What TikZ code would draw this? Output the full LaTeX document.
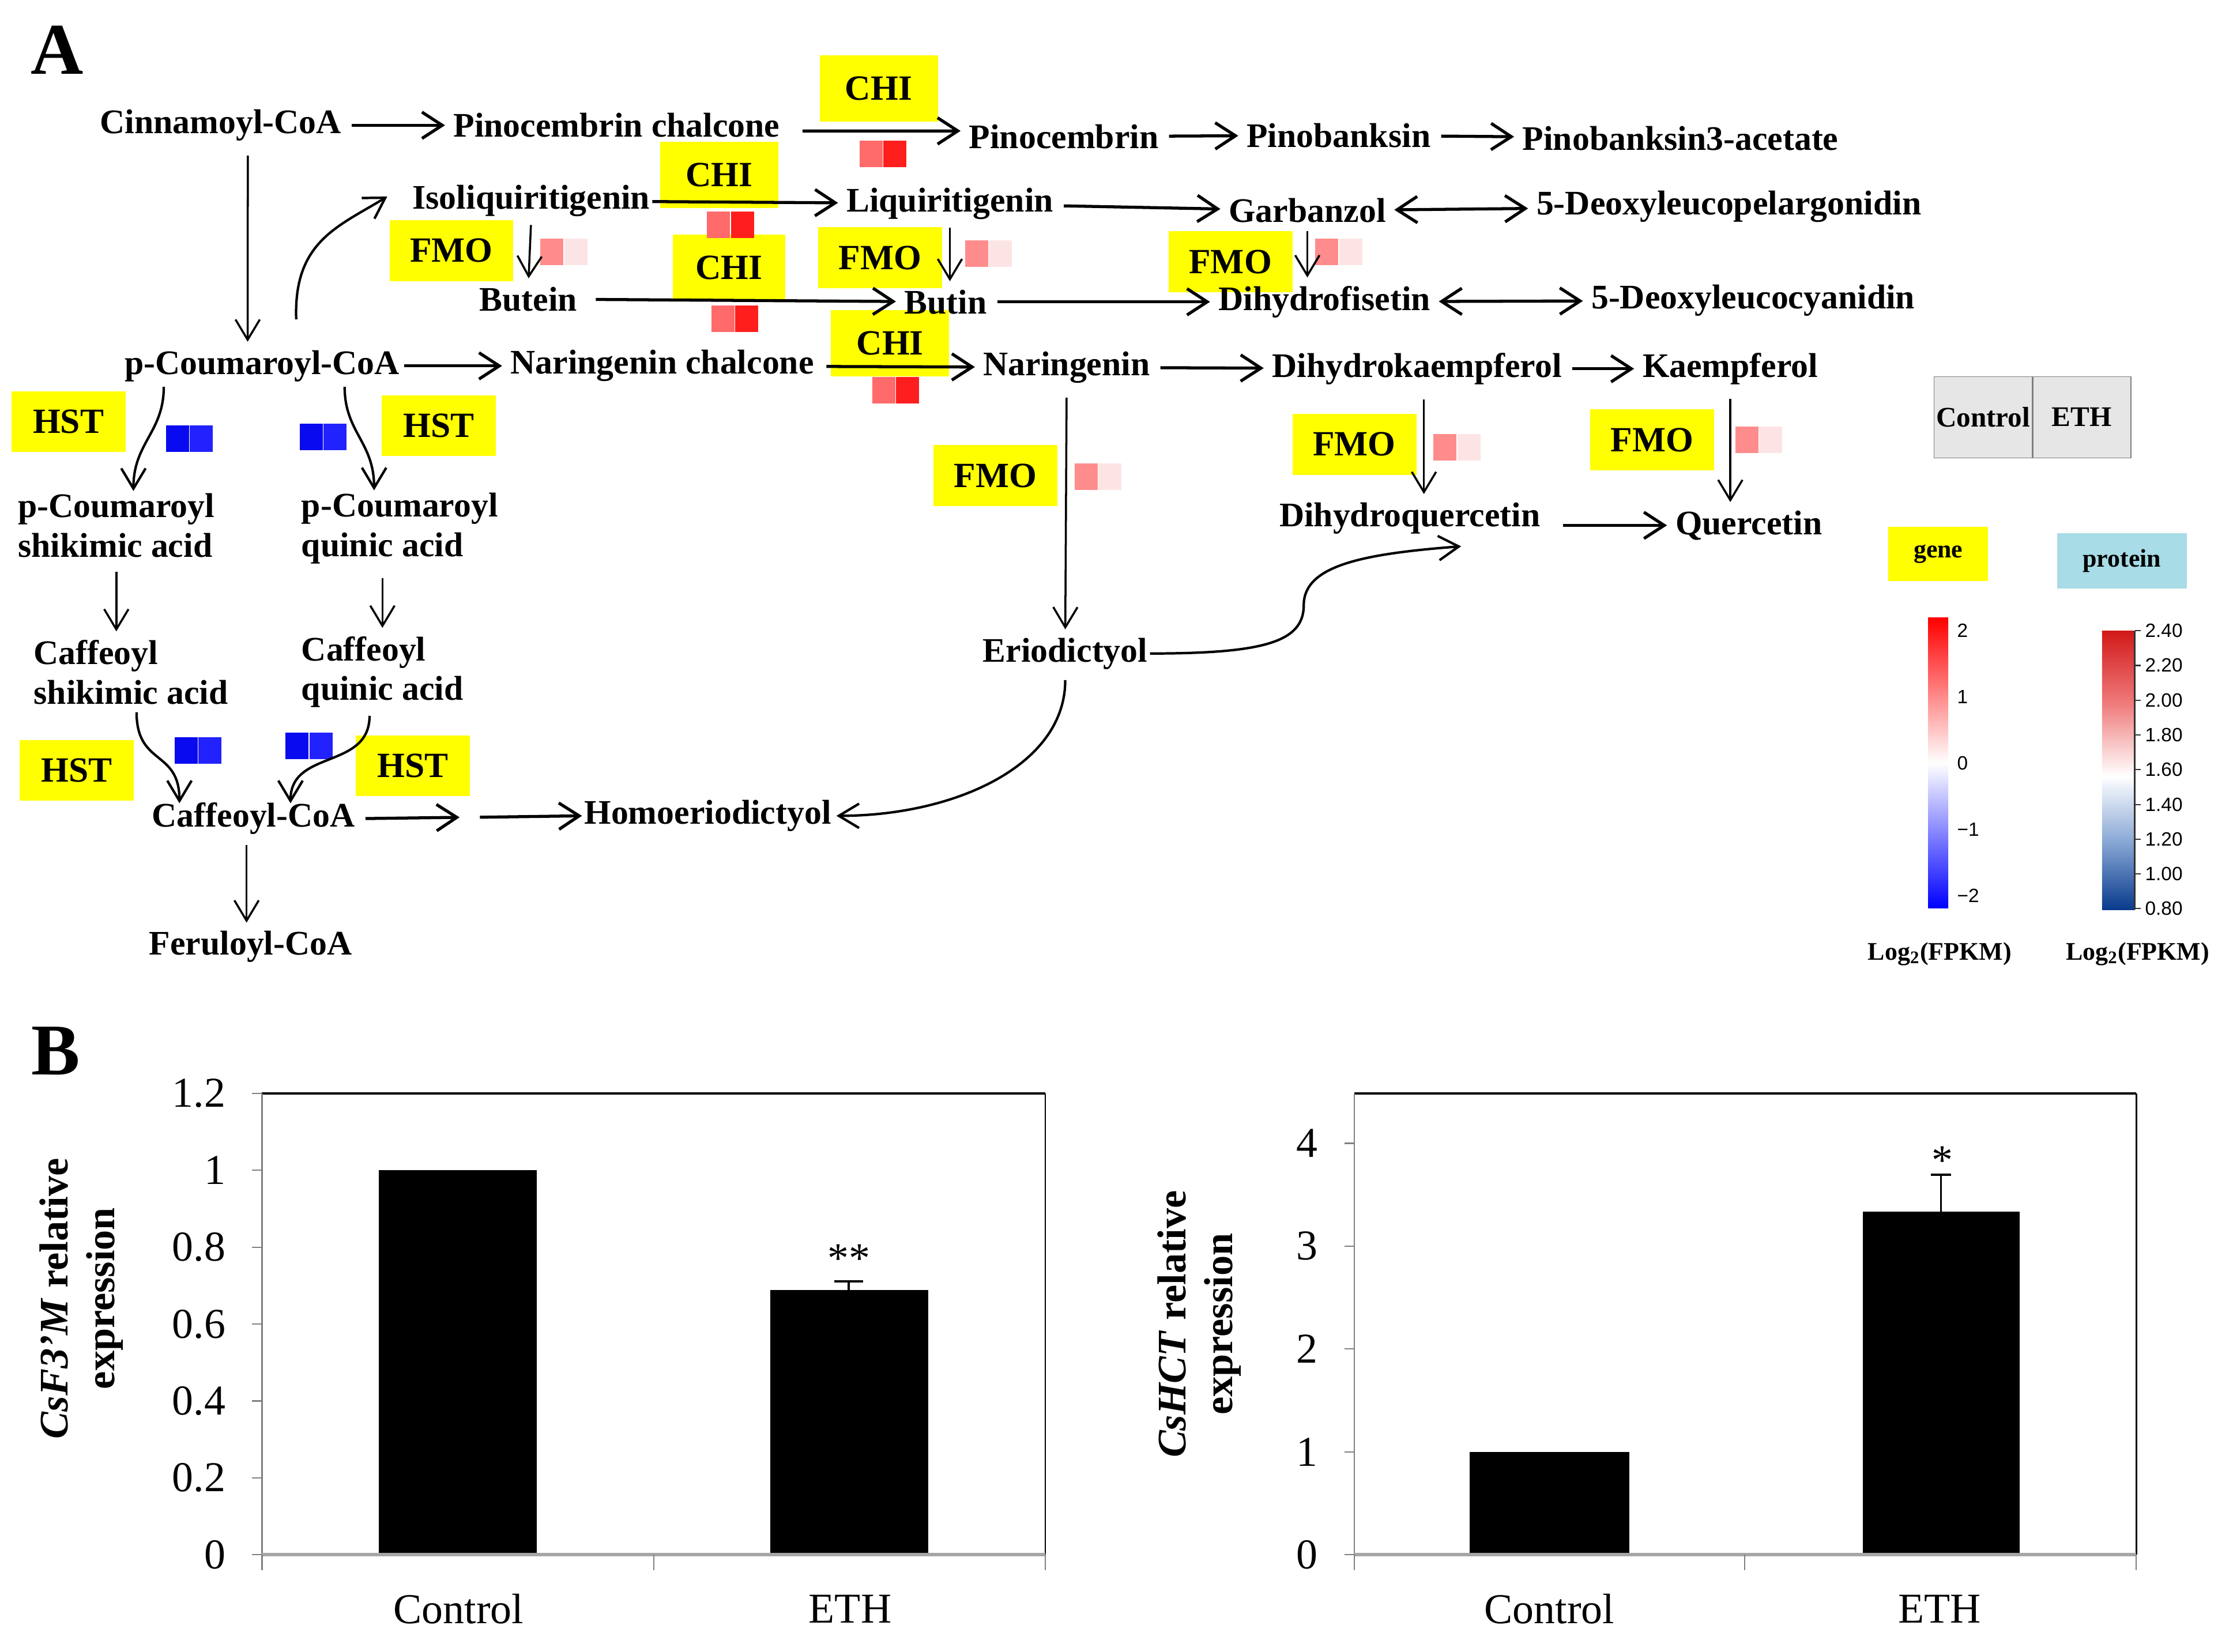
\documentclass[tikz,border=0pt]{standalone}
\usepackage{fontspec}
\setmainfont{Liberation Serif}
\newfontfamily\sansnum{Liberation Sans}
\usetikzlibrary{arrows.meta,calc,positioning}

\definecolor{enzy}{HTML}{FFFF00}
\definecolor{chiL}{HTML}{FF6A6A}
\definecolor{chiR}{HTML}{FF1E1E}
\definecolor{fmoL}{HTML}{FF8C8C}
\definecolor{fmoR}{HTML}{FDE4E4}
\definecolor{hstL}{HTML}{0A0AF0}
\definecolor{hstR}{HTML}{2222FF}
\definecolor{legcell}{HTML}{E6E6E6}
\definecolor{protcol}{HTML}{A8DCE6}

% two heat-map cells side by side: name, centre, left colour, right colour
\newcommand{\heatpair}[4]{%
  \node[hsq,fill=#3,anchor=east] (#1-l) at (#2) {};
  \node[hsq,fill=#4,anchor=west] (#1-r) at (#2) {};}

\begin{document}
\begin{tikzpicture}[x=0.0247cm,y=-0.0247cm,
  cpd/.style={font=\fontsize{17}{19.6}\selectfont\bfseries,inner sep=1pt},
  enz/.style={fill=enzy,font=\fontsize{17.5}{20}\selectfont\bfseries,inner sep=0pt},
  chibox/.style={enz,minimum width=2.05cm,minimum height=1.15cm},
  fmobox/.style={enz,minimum width=2.15cm,minimum height=1.06cm},
  hstbox/.style={enz,minimum width=1.98cm,minimum height=1.05cm},
  hsq/.style={inner sep=0pt,minimum width=0.40cm,minimum height=0.46cm},
  harr/.style={->,>={Straight Barb[length=10pt,width=13pt]},line width=1.5pt,shorten <=4pt,shorten >=3pt},
  varr/.style={->,>={Straight Barb[length=10pt,width=12pt]},line width=1pt,shorten <=3pt,shorten >=3pt},
  carr/.style={->,>={Straight Barb[length=10pt,width=12pt]},line width=1.2pt},
  dharr/.style={<->,>={Straight Barb[length=10pt,width=13pt]},line width=1.5pt,shorten <=3pt,shorten >=3pt},
  panel/.style={font=\fontsize{36}{40}\selectfont\bfseries,inner sep=0pt},
  ticklab/.style={font=\fontsize{21}{24}\selectfont,inner sep=1pt},
  ylab/.style={font=\fontsize{20}{23}\selectfont\bfseries,align=center,rotate=90,inner sep=0pt},
  cbarlab/.style={font=\sansnum\fontsize{9.5}{11}\selectfont,inner sep=0pt,anchor=west},
  legtext/.style={font=\fontsize{12.5}{14}\selectfont\bfseries,inner sep=0pt}]

\fill[white] (0,0) rectangle (1568,1160);
\useasboundingbox (0,0) rectangle (1568,1160);

\node[panel] (pA) at (40,35) {A};
\node[panel] (pB) at (39,738) {B};

% enzymes
\node[chibox] (chi1) at (617,62) {CHI};
\node[chibox] (chi2) at (505,123) {CHI};
\node[chibox,minimum width=1.95cm] (chi3) at (512,188) {CHI};
\node[chibox] (chi4) at (625,241) {CHI};
\node[fmobox] (fmo1) at (317,176) {FMO};
\node[fmobox] (fmo2) at (618,181) {FMO};
\node[fmobox] (fmo3) at (864,184) {FMO};
\node[fmobox] (fmo4) at (699,334) {FMO};
\node[fmobox] (fmo5) at (951,312) {FMO};
\node[fmobox] (fmo6) at (1160,309) {FMO};
\node[hstbox] (hst1) at (48,296) {HST};
\node[hstbox] (hst2) at (308,299) {HST};
\node[hstbox] (hst3) at (54,541) {HST};
\node[hstbox] (hst4) at (290,538) {HST};

\heatpair{hc1}{620,108}{chiL}{chiR}
\heatpair{hc2}{513,158}{chiL}{chiR}
\heatpair{hc3}{516,224}{chiL}{chiR}
\heatpair{hc4}{629,274}{chiL}{chiR}
\heatpair{hf1}{396,177}{fmoL}{fmoR}
\heatpair{hf2}{694,178}{fmoL}{fmoR}
\heatpair{hf3}{940,177}{fmoL}{fmoR}
\heatpair{hf4}{771,335}{fmoL}{fmoR}
\heatpair{hf5}{1023,314}{fmoL}{fmoR}
\heatpair{hf6}{1235,309}{fmoL}{fmoR}
\heatpair{hh1}{133,308}{hstL}{hstR}
\heatpair{hh2}{227,307}{hstL}{hstR}
\heatpair{hh3}{139,527}{hstL}{hstR}
\heatpair{hh4}{217,524}{hstL}{hstR}

% compounds
\node[cpd] (cin) at (155,88) {Cinnamoyl-CoA};
\node[cpd] (pcc) at (433,88) {Pinocembrin chalcone};
\node[cpd] (pino) at (747,96) {Pinocembrin};
\node[cpd] (pinob) at (940,95) {Pinobanksin};
\node[cpd] (pinoa) at (1180,97) {Pinobanksin3-acetate};
\node[cpd] (iso) at (373,141) {Isoliquiritigenin};
\node[cpd] (liq) at (667,143) {Liquiritigenin};
\node[cpd] (garb) at (918,148) {Garbanzol};
\node[cpd] (dlp) at (1214,145) {5-Deoxyleucopelargonidin};
\node[cpd] (butein) at (371,210) {Butein};
\node[cpd] (butin) at (664,212) {Butin};
\node[cpd] (dhf) at (930,212) {Dihydrofisetin};
\node[cpd] (dlc) at (1231,211) {5-Deoxyleucocyanidin};
\node[cpd] (pcoa) at (184,257) {p-Coumaroyl-CoA};
\node[cpd] (narch) at (465,257) {Naringenin chalcone};
\node[cpd] (nar) at (749,258) {Naringenin};
\node[cpd] (dhk) at (995,259) {Dihydrokaempferol};
\node[cpd] (kae) at (1215,259) {Kaempferol};
\node[cpd,align=left,anchor=west] (pcsa) at (11,369) {p-Coumaroyl\\shikimic acid};
\node[cpd,align=left,anchor=west] (pcqa) at (210,371) {p-Coumaroyl\\quinic acid};
\node[cpd,align=left,anchor=west] (csa) at (22,472) {Caffeoyl\\shikimic acid};
\node[cpd,align=left,anchor=west] (cqa) at (210,472) {Caffeoyl\\quinic acid};
\node[cpd] (dhq) at (990,364) {Dihydroquercetin};
\node[cpd] (que) at (1228,369) {Quercetin};
\node[cpd] (eri) at (748,459) {Eriodictyol};
\node[cpd] (caf) at (178,575) {Caffeoyl-CoA};
\node[cpd] (homo) at (497,573) {Homoeriodictyol};
\node[cpd] (fer) at (176,665) {Feruloyl-CoA};
\coordinate (cstep1) at (327,574);
\coordinate (cstep2) at (337,574);

% reactions
\draw[harr] (cin) -- (pcc);
\draw[harr,shorten <=10pt] ([yshift=-0.1cm]pcc.east) -- ([yshift=0.1cm]pino.west);
\draw[harr] (pino) -- (pinob);
\draw[harr] (pinob) -- (pinoa);
\draw[harr,shorten <=0pt] (iso) -- (liq);
\draw[harr] (liq) -- (garb);
\draw[dharr] (garb) -- (dlp);
\draw[harr,shorten <=8pt] (butein) -- (butin);
\draw[harr] (butin) -- (dhf);
\draw[dharr] (dhf) -- (dlc);
\draw[harr,shorten <=1pt] (pcoa) -- (narch);
\draw[harr,shorten <=5pt] (narch) -- (nar);
\draw[harr] (nar) -- (dhk);
\draw[harr] (dhk) -- (kae);
\draw[harr,shorten <=10pt] (dhq.east |- que.west) -- (que.west);
\draw[harr] (caf.east) -- (cstep1);
\draw[harr,shorten <=0pt,shorten >=0pt] (cstep2) -- (homo.west);

\draw[varr,shorten <=6pt] ([xshift=0.47cm]cin.south) -- ([xshift=-0.25cm]pcoa.north);
\draw[varr] (iso.south) -- (butein.north);
\draw[varr] (liq.south) -- (liq.south |- butin.north);
\draw[varr] (garb.south) -- (garb.south |- dhf.north);
\draw[varr,shorten <=6pt] (nar.south) -- (eri.north);
\draw[varr,shorten <=6pt] ([xshift=0.12cm]dhk.south) -- ([xshift=0.12cm]dhk.south |- dhq.north);
\draw[varr,shorten <=6pt] (kae.south) -- (kae.south |- que.north);
\draw[varr,shorten <=6pt] (pcsa.south) -- (pcsa.south |- csa.north);
\draw[varr,shorten <=6pt] ([xshift=-0.3cm]pcqa.south) -- ([xshift=-0.3cm]pcqa.south |- cqa.north);
\draw[varr,shorten <=4pt] ([xshift=-0.12cm]caf.south) -- ([xshift=-0.12cm]caf.south |- fer.north);

\draw[carr] ($(pcoa.north)+(24,-20)$) .. controls ($(pcoa.north)+(22,-75)$) and ($(iso.west)+(-50,18)$) .. ($(iso.west)+(-16,-3)$);
\draw[carr] ($(pcoa.south)+(-69,2)$) .. controls ($(pcoa.south)+(-69,34)$) and ($(pcsa.north)+(12,-34)$) .. ($(pcsa.north)+(12,0)$);
\draw[carr] ($(pcoa.south)+(58,2)$) .. controls ($(pcoa.south)+(58,34)$) and ($(pcqa.north)+(-18,-34)$) .. ($(pcqa.north)+(-18,0)$);
\draw[carr] ($(csa.south)+(4,4)$) .. controls ($(csa.south)+(4,42)$) and ($(caf.north)+(-52,-36)$) .. ($(caf.north)+(-52,2)$);
\draw[carr] ($(cqa.south)+(-9,4)$) .. controls ($(cqa.south)+(-9,42)$) and ($(caf.north)+(26,-36)$) .. ($(caf.north)+(26,2)$);
\draw[carr] (eri.east) .. controls ($(eri.east)+(80,0)$) and ($(eri.east)+(108,-8)$) .. ($(eri.east)+(108,-34)$)
  .. controls ($(eri.east)+(108,-62)$) and ($(eri.east)+(150,-70)$) .. ($(dhq.south)+(36,7)$);
\draw[carr] ($(eri.south)+(0,6)$) .. controls ($(eri.south)+(0,66)$) and ($(homo.east)+(85,0)$) .. ($(homo.east)+(2,0)$);

% legend
\node[legtext,font=\fontsize{14}{16}\selectfont\bfseries,fill=legcell,draw=gray,minimum width=1.70cm,minimum height=1.41cm] (lctrl) at (1392.5,293) {Control};
\node[legtext,font=\fontsize{14}{16}\selectfont\bfseries,fill=legcell,draw=gray,minimum width=1.70cm,minimum height=1.41cm,right=0pt of lctrl] (leth) {ETH};
\node[legtext,fill=enzy,minimum width=1.73cm,minimum height=0.94cm] (lgene) at (1361,389) {gene};
\node[legtext,fill=protcol,minimum width=2.25cm,minimum height=0.96cm] (lprot) at (1490,394) {protein};

\shade[top color=red,bottom color=white] (1354,434) rectangle (1368,536);
\shade[top color=white,bottom color=blue] (1354,536) rectangle (1368,638);
\foreach \v [count=\i from 0] in {2,1,0,−1,−2}
  \node[cbarlab] (gt\i) at (1374,{443+46.5*\i}) {\v};

\shade[top color={rgb,255:red,210;green,24;blue,24},bottom color={rgb,255:red,240;green,125;blue,125}] (1476,443) rectangle (1499,495);
\shade[top color={rgb,255:red,240;green,125;blue,125},bottom color=white] (1476,495) rectangle (1499,545);
\shade[top color=white,bottom color={rgb,255:red,140;green,170;blue,215}] (1476,545) rectangle (1499,590);
\shade[top color={rgb,255:red,140;green,170;blue,215},bottom color={rgb,255:red,8;green,58;blue,140}] (1476,590) rectangle (1499,639);
\draw[line width=0.8pt,black!80] (1499,443) -- (1499,639);
\foreach \v [count=\i from 0] in {2.40,2.20,2.00,1.80,1.60,1.40,1.20,1.00,0.80}{
  \draw[line width=0.6pt,black!80] (1499,{443+24.4*\i}) -- (1503,{443+24.4*\i});
  \node[cbarlab] (pt\i) at (1506,{443+24.4*\i}) {\v};
}
\node[legtext] (lfpkm1) at (1362,670) {Log\textsubscript{2}(FPKM)};
\node[legtext] (lfpkm2) at (1501,670) {Log\textsubscript{2}(FPKM)};

% bar chart CsF3'M
\fill (266,1092) rectangle (377,822);
\fill (541,1092) rectangle (652,906);
\draw[line width=1pt] (596,906) -- (596,900) (586,900) -- (606,900);
\node[ticklab] (st1) at (596,884) {**};
\draw[line width=1.4pt] (184,768) -- (734,768);
\draw[line width=0.8pt] (734,768) -- (734,1092);
\draw[gray,line width=0.6pt] (184,768) -- (184,1092);
\foreach \t [count=\i] in {0,0.2,0.4,0.6,0.8,1,1.2}{
  \draw[gray,line width=0.6pt] (177,{1092-270*\t}) -- (184,{1092-270*\t});
  \node[ticklab,anchor=east] (ltk\i) at (160,{1092-270*\t}) {\t};
}
\draw[gray!70,line width=1.6pt] (184,1092) -- (734,1092);
\foreach \x in {184,459,734}
  \draw[gray,line width=0.6pt] (\x,1092) -- (\x,1103);
\node[ticklab] (cl1) at (322,1130) {Control};
\node[ticklab] (cl2) at (597,1130) {ETH};
\node[ylab] (yl1) at (57,912) {\textit{CsF3'M} relative\\expression};

% bar chart CsHCT
\fill (1032,1092) rectangle (1144,1020);
\fill (1308,1092) rectangle (1418,851);
\draw[line width=1pt] (1363,851) -- (1363,825) (1356,825) -- (1370,825);
\node[ticklab] (st2) at (1364,815) {*};
\draw[line width=1.4pt] (951,768) -- (1500,768);
\draw[line width=0.8pt] (1500,768) -- (1500,1092);
\draw[gray,line width=0.6pt] (951,768) -- (951,1092);
\foreach \t in {0,...,4}{
  \draw[gray,line width=0.6pt] (944,{1092-72.25*\t}) -- (951,{1092-72.25*\t});
  \node[ticklab,anchor=east] (rtk\t) at (927,{1092-72.25*\t}) {\t};
}
\draw[gray!70,line width=1.6pt] (951,1092) -- (1500,1092);
\foreach \x in {951,1225,1500}
  \draw[gray,line width=0.6pt] (\x,1092) -- (\x,1103);
\node[ticklab] (cr1) at (1088,1130) {Control};
\node[ticklab] (cr2) at (1362,1130) {ETH};
\node[ylab] (yl2) at (842,930) {\textit{CsHCT} relative\\expression};
\end{tikzpicture}
\end{document}
